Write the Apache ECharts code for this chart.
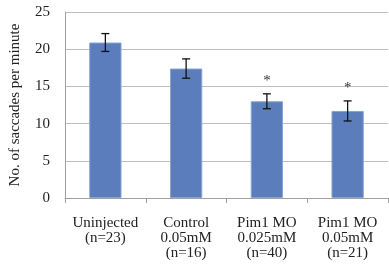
<!DOCTYPE html>
<html><head><meta charset="utf-8">
<script src="https://cdn.jsdelivr.net/npm/echarts@6/dist/echarts.min.js"></script>
<style>html,body{margin:0;padding:0;background:#fff}#c{width:389px;height:272px}</style>
</head><body><div id="c"></div>
<script>
var categories = ['Uninjected\n(n=23)', 'Control\n0.05mM\n(n=16)', 'Pim1 MO\n0.025mM\n(n=40)', 'Pim1 MO\n0.05mM\n(n=21)'];
var means = [20.9, 17.4, 13.0, 11.7];
var errors = [1.2, 1.3, 1.0, 1.35];
var marks = ['', '', '*', '*'];
var yTicks = [0, 5, 10, 15, 20, 25];

var font = '"Liberation Serif", "Times New Roman", serif';
var chart = echarts.init(document.getElementById('c'));
chart.setOption({
  animation: false,
  grid: {left: 60, right: 1, top: 12, bottom: 74},
  xAxis: {
    type: 'category', data: categories,
    axisLine: {lineStyle: {color: '#a0a0a0'}},
    axisTick: {show: true, length: 5, lineStyle: {color: '#a0a0a0'}},
    axisLabel: {fontFamily: font, fontSize: 15, color: '#222', lineHeight: 15, margin: 18, interval: 0}
  },
  yAxis: {
    type: 'value', min: 0, max: 25, interval: 5,
    name: 'No. of saccades per minute', nameLocation: 'middle', nameGap: 42,
    nameTextStyle: {fontFamily: font, fontSize: 15, color: '#222'},
    axisLine: {show: true, lineStyle: {color: '#a0a0a0'}},
    axisTick: {show: false},
    axisLabel: {fontFamily: font, fontSize: 15, color: '#222', margin: 15,
      formatter: function (v) { return yTicks.indexOf(v) >= 0 ? String(v) : ''; }},
    splitLine: {lineStyle: {color: '#bdbdbd', width: 1}}
  },
  series: [{
    type: 'bar', data: means, barWidth: '40%',
    itemStyle: {color: '#5b7dbb', borderColor: '#8aa4d2', borderWidth: 1}
  }, {
    type: 'custom',
    data: means.map(function (m, i) { return [i, m, errors[i]]; }),
    renderItem: function (params, api) {
      var x = api.value(0), m = api.value(1), e = api.value(2);
      var top = api.coord([x, m + e]), bot = api.coord([x, m - e]);
      var cap = 4;
      var st = {stroke: '#111', lineWidth: 1.3};
      var children = [
        {type: 'line', shape: {x1: top[0], y1: top[1], x2: bot[0], y2: bot[1]}, style: st},
        {type: 'line', shape: {x1: top[0] - cap, y1: top[1], x2: top[0] + cap, y2: top[1]}, style: st},
        {type: 'line', shape: {x1: bot[0] - cap, y1: bot[1], x2: bot[0] + cap, y2: bot[1]}, style: st}
      ];
      var mk = marks[params.dataIndex];
      if (mk) {
        children.push({type: 'text', style: {text: mk, x: top[0], y: top[1] - 13, align: 'center', verticalAlign: 'middle',
          font: '15px ' + font, fill: '#333'}});
      }
      return {type: 'group', children: children};
    },
    z: 5
  }]
});
</script></body></html>
